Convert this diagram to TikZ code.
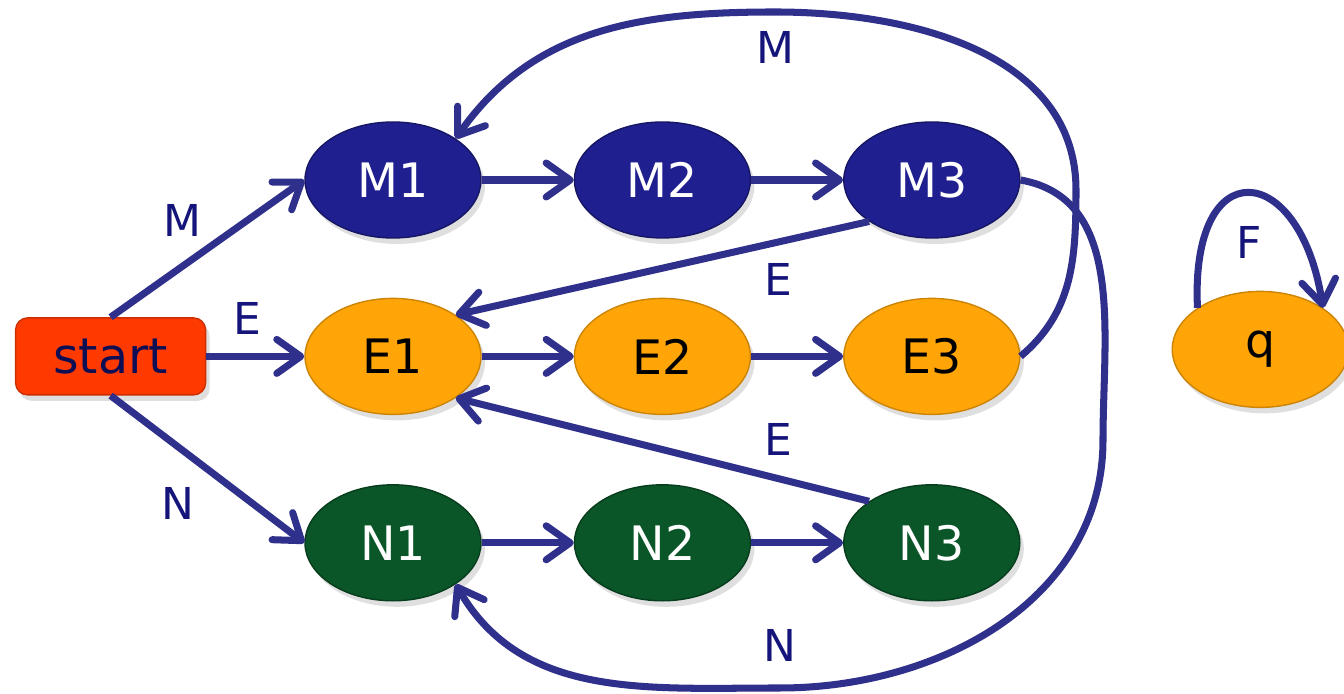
\documentclass[tikz,border=0pt]{standalone}
\usepackage{fontspec}
\setmainfont{DejaVu Sans}
\usetikzlibrary{shapes.geometric,positioning,arrows.meta,shadows}
\definecolor{mblue}{HTML}{1F1F8F}
\definecolor{eorange}{HTML}{FFA508}
\definecolor{ngreen}{HTML}{0A5628}
\definecolor{startred}{HTML}{FF3A00}
\definecolor{edgeblue}{HTML}{2F2F8C}
\definecolor{lblblue}{HTML}{14147A}
\begin{document}
\begin{tikzpicture}[state/.style={ellipse, minimum width=1.76cm, minimum height=1.16cm, inner sep=0pt, font=\fontsize{13.5}{15}\selectfont, drop shadow={opacity=0.25, shadow xshift=0.4mm, shadow yshift=-0.6mm}},mstate/.style={state, fill=mblue, draw=mblue!70!black, text=white},estate/.style={state, fill=eorange, draw=eorange!80!black, text=black},nstate/.style={state, fill=ngreen, draw=ngreen!70!black, text=white},startbox/.style={rectangle, rounded corners=1.2mm, minimum width=1.90cm, minimum height=0.77cm, fill=startred, draw=startred!80!black, text=lblblue!70!black, font=\fontsize{14}{16}\selectfont, drop shadow={opacity=0.25, shadow xshift=0.4mm, shadow yshift=-0.6mm}},edge/.style={draw=edgeblue, line width=2pt, -{Straight Barb[round,length=2.4mm,width=3.4mm]}},lbl/.style={text=lblblue, inner sep=0pt, font=\fontsize{12.5}{14}\selectfont}]
                \useasboundingbox (0,0) rectangle (13.44,-6.94);
                \node[mstate] (M1) at (3.93,-1.80) {M1};
                \node[mstate, right=0.92cm of M1] (M2) {M2};
                \node[mstate, right=0.92cm of M2] (M3) {M3};
                \node[estate, below=0.59cm of M1] (E1) {E1};
                \node[estate, right=0.92cm of E1] (E2) {E2};
                \node[estate, right=0.92cm of E2] (E3) {E3};
                \node[nstate, below=0.69cm of E1] (N1) {N1};
                \node[nstate, right=0.92cm of N1] (N2) {N2};
                \node[nstate, right=0.92cm of N2] (N3) {N3};
                \node[startbox, left=0.98cm of E1] (start) {start};
                \node[estate, right=1.51cm of E3, yshift=0.07cm] (q) {q};
                \draw[edge] (start.north) -- node[lbl, pos=0.37, above=2.6mm] {M} (M1.west);
                \draw[edge] (start.east) -- node[lbl, pos=0.42, above=1.8mm] {E} (E1.west);
                \draw[edge] (start.south) -- node[lbl, pos=0.35, below=3.7mm] {N} (N1.west);
                \draw[edge] (M1) -- (M2);
                \draw[edge] (M2) -- (M3);
                \draw[edge] (E1) -- (E2);
                \draw[edge] (E2) -- (E3);
                \draw[edge] (N1) -- (N2);
                \draw[edge] (N2) -- (N3);
                \draw[edge] (M3.south west) -- node[lbl, pos=0.22, below=1.8mm] {E} (E1.north east);
                \draw[edge] (N3.north west) -- node[lbl, pos=0.22, above=2mm] {E} (E1.south east);
                \draw[edge] (E3.east) to[out=40,in=-90] (10.76,-1.9) to[out=90,in=0] (7.75,-0.12) node[lbl, below=1.6mm] {M} to[out=180,in=55] (M1.north east);
                \draw[edge] (M3.east) to[out=-10,in=90] (11.03,-4.4) to[out=-90,in=0] (7.8,-6.88) node[lbl, above=2.3mm] {N} to[out=180,in=-60] (N1.south east);
                \draw[edge] (q.north west) .. controls (11.9,-1.5) and (13.0,-1.6) .. node[lbl, pos=0.5, below=3mm] {F} (q.north east);
            \end{tikzpicture}
\end{document}
